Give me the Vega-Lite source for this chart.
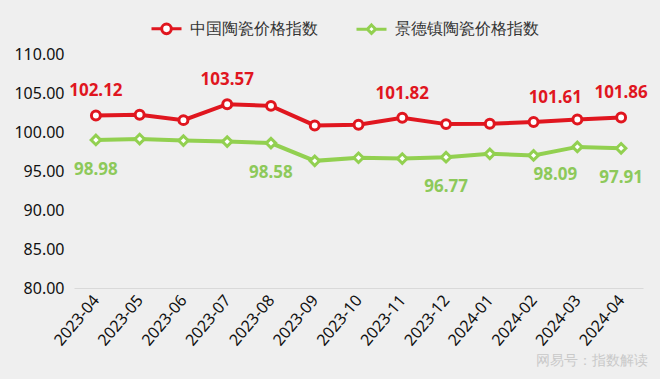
{
  "$schema": "https://vega.github.io/schema/vega-lite/v6.json",
  "width": 569,
  "height": 234,
  "autosize": {"type": "none"},
  "padding": {"left": 74, "top": 54, "right": 17, "bottom": 91},
  "background": "#efefef",
  "config": {"view": {"stroke": null}, "font": "Noto Sans"},
  "title": {"text": "网易号：指数解读", "orient": "bottom", "anchor": "end", "fontSize": 14, "fontWeight": "normal", "color": "#c9c9c9", "offset": 6},
  "data": {"values": [
    {"month": "2023-04", "series": "中国陶瓷价格指数", "value": 102.12, "label": true},
    {"month": "2023-05", "series": "中国陶瓷价格指数", "value": 102.2, "label": false},
    {"month": "2023-06", "series": "中国陶瓷价格指数", "value": 101.52, "label": false},
    {"month": "2023-07", "series": "中国陶瓷价格指数", "value": 103.57, "label": true},
    {"month": "2023-08", "series": "中国陶瓷价格指数", "value": 103.35, "label": false},
    {"month": "2023-09", "series": "中国陶瓷价格指数", "value": 100.84, "label": false},
    {"month": "2023-10", "series": "中国陶瓷价格指数", "value": 100.92, "label": false},
    {"month": "2023-11", "series": "中国陶瓷价格指数", "value": 101.82, "label": true},
    {"month": "2023-12", "series": "中国陶瓷价格指数", "value": 101.01, "label": false},
    {"month": "2024-01", "series": "中国陶瓷价格指数", "value": 101.05, "label": false},
    {"month": "2024-02", "series": "中国陶瓷价格指数", "value": 101.27, "label": false},
    {"month": "2024-03", "series": "中国陶瓷价格指数", "value": 101.61, "label": true},
    {"month": "2024-04", "series": "中国陶瓷价格指数", "value": 101.86, "label": true},
    {"month": "2023-04", "series": "景德镇陶瓷价格指数", "value": 98.98, "label": true},
    {"month": "2023-05", "series": "景德镇陶瓷价格指数", "value": 99.1, "label": false},
    {"month": "2023-06", "series": "景德镇陶瓷价格指数", "value": 98.9, "label": false},
    {"month": "2023-07", "series": "景德镇陶瓷价格指数", "value": 98.77, "label": false},
    {"month": "2023-08", "series": "景德镇陶瓷价格指数", "value": 98.58, "label": true},
    {"month": "2023-09", "series": "景德镇陶瓷价格指数", "value": 96.3, "label": false},
    {"month": "2023-10", "series": "景德镇陶瓷价格指数", "value": 96.7, "label": false},
    {"month": "2023-11", "series": "景德镇陶瓷价格指数", "value": 96.6, "label": false},
    {"month": "2023-12", "series": "景德镇陶瓷价格指数", "value": 96.77, "label": true},
    {"month": "2024-01", "series": "景德镇陶瓷价格指数", "value": 97.2, "label": false},
    {"month": "2024-02", "series": "景德镇陶瓷价格指数", "value": 97.0, "label": false},
    {"month": "2024-03", "series": "景德镇陶瓷价格指数", "value": 98.09, "label": true},
    {"month": "2024-04", "series": "景德镇陶瓷价格指数", "value": 97.91, "label": true}
  ]},
  "encoding": {
    "x": {
      "field": "month", "type": "ordinal", "sort": null,
      "scale": {"type": "point", "padding": 0.5},
      "axis": {"title": null, "labelAngle": -50, "labelFontSize": 16, "labelColor": "#111111", "ticks": false, "domainColor": "#d9d9d9", "domainWidth": 1, "labelPadding": 9, "grid": false}
    },
    "y": {
      "field": "value", "type": "quantitative",
      "scale": {"domain": [80, 110], "nice": false, "zero": false},
      "axis": {"title": null, "values": [80, 85, 90, 95, 100, 105, 110], "format": ".2f", "labelFontSize": 16, "labelColor": "#111111", "labelPadding": 10, "domain": false, "ticks": false, "grid": false}
    },
    "color": {
      "field": "series", "type": "nominal", "sort": null,
      "scale": {"domain": ["中国陶瓷价格指数", "景德镇陶瓷价格指数"], "range": ["#e0161f", "#92d050"]},
      "legend": {
        "title": null, "orient": "none", "legendX": 76, "legendY": -42, "direction": "horizontal",
        "labelFontSize": 16, "labelColor": "#333333", "symbolSize": 900, "symbolStrokeWidth": 3,
        "symbolFillColor": "white", "symbolOpacity": 1,
        "columnPadding": 32, "labelOffset": 7,
        "encode": {"symbols": {"update": {
          "fill": {"value": "white"},
          "strokeWidth": {"value": 3},
          "opacity": {"value": 1}
        }}}
      }
    }
  },
  "layer": [
    {"mark": {"type": "line", "strokeWidth": 4}},
    {
      "transform": [{"filter": "datum.series == '中国陶瓷价格指数'"}],
      "mark": {"type": "point", "shape": "circle", "filled": false, "fill": "white", "strokeWidth": 3, "size": 80, "opacity": 1}
    },
    {
      "transform": [{"filter": "datum.series == '景德镇陶瓷价格指数'"}],
      "mark": {"type": "point", "shape": "diamond", "filled": false, "fill": "white", "strokeWidth": 3, "size": 90, "opacity": 1}
    },
    {
      "transform": [{"filter": "false"}],
      "mark": {"type": "point", "filled": false, "fill": "white", "strokeWidth": 3, "opacity": 1},
      "encoding": {"shape": {"field": "series", "type": "nominal", "scale": {"domain": ["中国陶瓷价格指数", "景德镇陶瓷价格指数"], "range": ["M-1,0L-0.32,0M0.32,0L1,0M0.32,0A0.32,0.32 0 1 1 -0.32,0A0.32,0.32 0 1 1 0.32,0Z", "M-1,0L-0.28,0M0.28,0L1,0M0,-0.28L0.28,0L0,0.28L-0.28,0Z"]}}}
    },
    {
      "transform": [{"filter": "datum.series == '中国陶瓷价格指数' && datum.label && datum.month != '2024-03'"}],
      "mark": {"type": "text", "dy": -24, "fontSize": 17, "fontWeight": "bold"},
      "encoding": {"text": {"field": "value", "type": "quantitative", "format": ".2f"}, "color": {"value": "#e0161f"}}
    },
    {
      "transform": [{"filter": "datum.series == '中国陶瓷价格指数' && datum.label && datum.month == '2024-03'"}],
      "mark": {"type": "text", "dy": -21, "dx": -22, "fontSize": 17, "fontWeight": "bold"},
      "encoding": {"text": {"field": "value", "type": "quantitative", "format": ".2f"}, "color": {"value": "#e0161f"}}
    },
    {
      "transform": [{"filter": "datum.series == '景德镇陶瓷价格指数' && datum.label && datum.month != '2024-03'"}],
      "mark": {"type": "text", "dy": 30, "fontSize": 17, "fontWeight": "bold"},
      "encoding": {"text": {"field": "value", "type": "quantitative", "format": ".2f"}, "color": {"value": "#8dc95a"}}
    },
    {
      "transform": [{"filter": "datum.series == '景德镇陶瓷价格指数' && datum.label && datum.month == '2024-03'"}],
      "mark": {"type": "text", "dy": 28, "dx": -22, "fontSize": 17, "fontWeight": "bold"},
      "encoding": {"text": {"field": "value", "type": "quantitative", "format": ".2f"}, "color": {"value": "#8dc95a"}}
    }
  ]
}
